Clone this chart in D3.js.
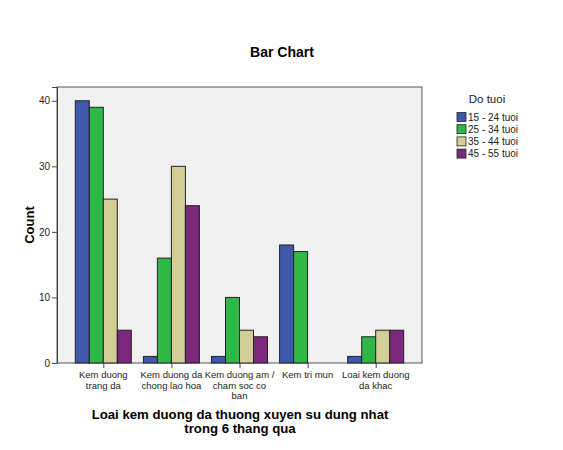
<!DOCTYPE html>
<html><head><meta charset="utf-8">
<script src="https://cdn.jsdelivr.net/npm/d3@7"></script>
<style>body{margin:0;background:#fff;} text{font-family:Arial,"Liberation Sans",sans-serif;}</style>
</head><body><div id="chart"></div>
<script>
const categories = [
  ["Kem duong", "trang da"],
  ["Kem duong da", "chong lao hoa"],
  ["Kem duong am /", "cham soc co", "ban"],
  ["Kem tri mun"],
  ["Loai kem duong", "da khac"]
];
const seriesNames = ["15 - 24 tuoi", "25 - 34 tuoi", "35 - 44 tuoi", "45 - 55 tuoi"];
const s15_24 = [40, 1, 1, 18, 1];
const s25_34 = [39, 16, 10, 17, 4];
const s35_44 = [25, 30, 5, 0, 5];
const s45_55 = [5, 24, 4, 0, 5];
const yTicks = [0, 10, 20, 30, 40];
const colors = ["#3E58AC", "#2EB848", "#D3CE97", "#7C287D"];
const series = [s15_24, s25_34, s35_44, s45_55];

const W = 563, H = 450;
const L = 57, R = 422, T = 87, B = 363;
const svg = d3.select("#chart").append("svg").attr("width", W).attr("height", H);

svg.append("text").attr("x", 282).attr("y", 57).attr("text-anchor", "middle")
  .style("font-size", "14px").style("font-weight", "bold").text("Bar Chart");

svg.append("rect").attr("x", L).attr("y", T).attr("width", R - L).attr("height", B - T)
  .attr("fill", "#F0F0F0").attr("stroke", "#555").attr("stroke-width", 1);

const idx = categories.map((d, i) => i);
const x = d3.scalePoint().domain(idx).range([L, R]).padding(0.68);
const y = d3.scaleLinear().domain([0, 42.1]).range([B, T]);
const xs = d3.scaleBand().domain(d3.range(4)).range([-28, 28]);

const g = svg.append("g");
series.forEach((vals, si) => {
  const data = vals.map((v, i) => ({v, i})).filter(d => d.v > 0);
  g.selectAll(null).data(data).enter().append("rect")
    .attr("x", d => x(d.i) + xs(si))
    .attr("width", xs.bandwidth())
    .attr("y", d => y(d.v))
    .attr("height", d => B - y(d.v))
    .attr("fill", colors[si]).attr("stroke", "#222").attr("stroke-width", 1);
});

const yAxis = svg.append("g").attr("transform", `translate(${L},0)`)
  .call(d3.axisLeft(y).tickValues(yTicks).tickSize(5).tickPadding(2));
yAxis.select(".domain").attr("stroke", "#444");
yAxis.selectAll("line").attr("stroke", "#444");
yAxis.selectAll("text").style("font-size", "10px").attr("fill", "#222");

const xAxis = svg.append("g").attr("transform", `translate(0,${B})`)
  .call(d3.axisBottom(x).tickSize(5).tickFormat(""));
xAxis.select(".domain").remove();
xAxis.selectAll("line").attr("stroke", "#444");

idx.forEach(i => {
  const t = svg.append("text").attr("text-anchor", "middle").attr("y", 378)
    .style("font-size", "9.5px").attr("fill", "#222");
  categories[i].forEach((line, k) => {
    t.append("tspan").attr("x", x(i)).attr("dy", k === 0 ? 0 : 10.5).text(line);
  });
});

svg.append("text").attr("transform", "translate(34,225) rotate(-90)").attr("text-anchor", "middle")
  .style("font-size", "13px").style("font-weight", "bold").text("Count");

const xt = svg.append("text").attr("text-anchor", "middle").attr("y", 419)
  .style("font-size", "13.2px").style("font-weight", "bold");
xt.append("tspan").attr("x", 240).text("Loai kem duong da thuong xuyen su dung nhat");
xt.append("tspan").attr("x", 240).attr("dy", 14).text("trong 6 thang qua");

svg.append("text").attr("x", 487).attr("y", 103).attr("text-anchor", "middle")
  .style("font-size", "11.5px").attr("fill", "#222").text("Do tuoi");
const leg = svg.append("g");
seriesNames.forEach((n, i) => {
  const cy = 117 + i * 12.2;
  leg.append("rect").attr("x", 457).attr("y", cy - 4.5).attr("width", 9).attr("height", 9)
    .attr("fill", colors[i]).attr("stroke", "#222").attr("stroke-width", 0.8);
  leg.append("text").attr("x", 468).attr("y", cy + 3.5).style("font-size", "10px")
    .attr("fill", "#222").text(n);
});
</script></body></html>
